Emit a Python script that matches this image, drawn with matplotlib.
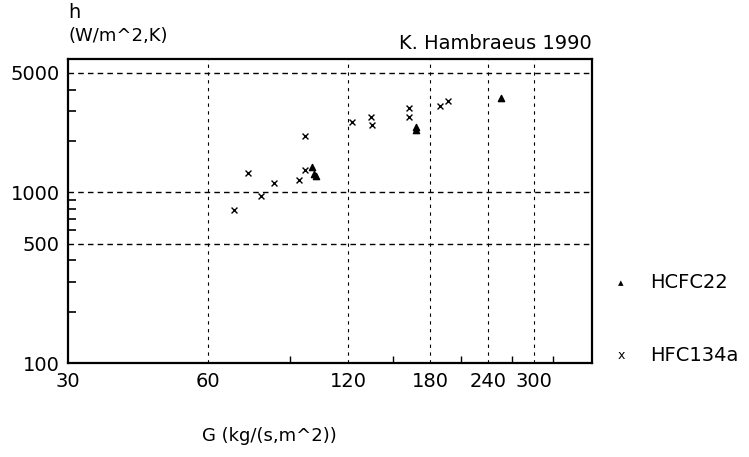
import matplotlib.pyplot as plt
import matplotlib.ticker as mticker

# mass flux G (kg/(s,m^2)) and heat transfer coefficient h (W/m^2,K)
g_hfc134a = [68, 73, 78, 83, 94, 97, 97, 122, 134, 135, 162, 162, 189, 196]
h_hfc134a = [790, 1300, 950, 1140, 1175, 2140, 1350, 2580, 2750, 2470, 3120, 2750, 3190, 3420]

g_hcfc22 = [100, 101, 102, 168, 168, 255]
h_hcfc22 = [1400, 1290, 1240, 2400, 2330, 3570]

x_major = [30, 60, 120, 180, 240, 300]
x_minor = [90, 150, 210, 270, 330]
y_major = [100, 500, 1000, 5000]
y_minor = [200, 300, 400, 600, 700, 800, 900, 2000, 3000, 4000]
x_grid = [60, 120, 180, 240, 300]
y_grid = [500, 1000, 5000]

plt.rcParams['font.family'] = ['DejaVu Sans']

fig = plt.figure(figsize=(7.49, 4.57), dpi=100)
ax = fig.add_axes([0.091, 0.205, 0.699, 0.665])
ax.set_xscale('log')
ax.set_yscale('log')
ax.set_xlim(30, 400)
ax.set_ylim(100, 6000)

for g in x_grid:
    ax.axvline(g, color='black', lw=0.8, ls=(0, (3, 4)))
for h in y_grid:
    ax.axhline(h, color='black', lw=1.0, ls=(0, (4, 3)))

ax.scatter(g_hfc134a, h_hfc134a, marker='x', s=18, color='black', linewidths=1.0, zorder=3)
ax.scatter(g_hcfc22, h_hcfc22, marker='^', s=20, color='black', zorder=3)

ax.xaxis.set_major_locator(mticker.FixedLocator(x_major))
ax.xaxis.set_minor_locator(mticker.FixedLocator(x_minor))
ax.xaxis.set_major_formatter(mticker.FixedFormatter([str(v) for v in x_major]))
ax.xaxis.set_minor_formatter(mticker.NullFormatter())
ax.yaxis.set_major_locator(mticker.FixedLocator(y_major))
ax.yaxis.set_minor_locator(mticker.FixedLocator(y_minor))
ax.yaxis.set_major_formatter(mticker.FixedFormatter([str(v) for v in y_major]))
ax.yaxis.set_minor_formatter(mticker.NullFormatter())

ax.tick_params(axis='both', which='major', direction='in', length=0, labelsize=14, pad=6)
ax.tick_params(axis='y', which='minor', direction='in', length=6, width=1.2)
ax.tick_params(axis='x', which='minor', direction='in', length=5, width=1.0)
for s in ax.spines.values():
    s.set_linewidth(1.6)

fig.text(0.091, 0.972, 'h', fontsize=14, ha='left', va='center')
fig.text(0.091, 0.922, '(W/m^2,K)', fontsize=13, ha='left', va='center')
fig.text(0.79, 0.905, 'K. Hambraeus 1990', fontsize=14, ha='right', va='center')
fig.text(0.36, 0.045, 'G (kg/(s,m^2))', fontsize=13, ha='center', va='center')

# legend drawn beside the axes
fig.text(0.829, 0.381, '\u25b4', fontsize=8, ha='center', va='center')
fig.text(0.868, 0.381, 'HCFC22', fontsize=14, ha='left', va='center')
fig.text(0.829, 0.222, 'x', fontsize=9, ha='center', va='center')
fig.text(0.868, 0.222, 'HFC134a', fontsize=14, ha='left', va='center')

fig.savefig('out.png', dpi=100, facecolor='white')
